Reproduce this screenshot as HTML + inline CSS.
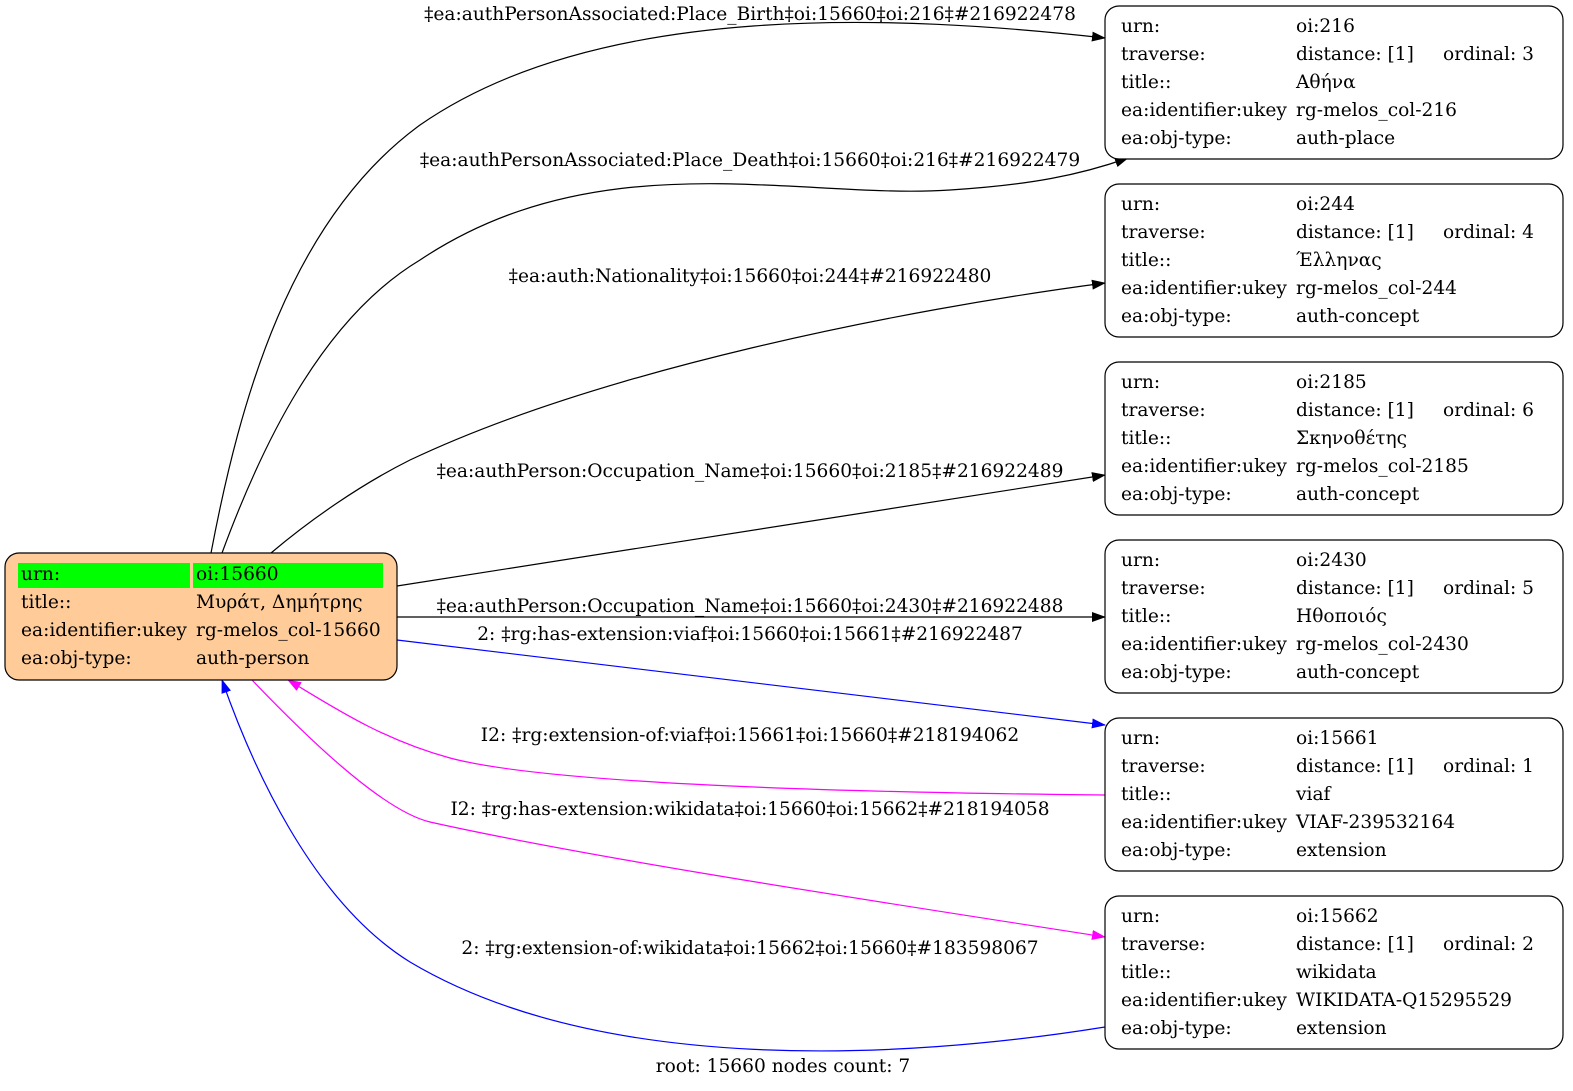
<!DOCTYPE html>
<html><head><meta charset="utf-8"><style>
html,body{margin:0;padding:0;background:#fff;}
svg{display:block;}
text{font-family:"DejaVu Serif","Liberation Serif",serif;font-size:18.6px;fill:#000;}
</style></head><body>
<svg width="1573" height="1091" viewBox="0 0 1573 1091" xmlns="http://www.w3.org/2000/svg">
<defs>
<marker id="ak" markerWidth="14" markerHeight="10" refX="13" refY="5" orient="auto" markerUnits="userSpaceOnUse"><path d="M0,0 L14,5 L0,10 z" fill="#000"/></marker>
<marker id="ab" markerWidth="14" markerHeight="10" refX="13" refY="5" orient="auto" markerUnits="userSpaceOnUse"><path d="M0,0 L14,5 L0,10 z" fill="#00f"/></marker>
<marker id="am" markerWidth="14" markerHeight="10" refX="13" refY="5" orient="auto" markerUnits="userSpaceOnUse"><path d="M0,0 L14,5 L0,10 z" fill="#f0f"/></marker>
</defs>
<g fill="none" stroke-width="1.2">
<path d="M211,553 C240,400 290,220 420,125 C600,0 900,15 1105,38" stroke="#000" marker-end="url(#ak)"/>
<path d="M222,553 C260,450 320,320 420,260 C600,140 800,200 950,190 C1030,185 1080,175 1128,158" stroke="#000" marker-end="url(#ak)"/>
<path d="M271,553 C310,520 360,485 410,460 C600,370 900,310 1105,283" stroke="#000" marker-end="url(#ak)"/>
<path d="M397,586 L1105,475" stroke="#000" marker-end="url(#ak)"/>
<path d="M397,617 L1105,617" stroke="#000" marker-end="url(#ak)"/>
<path d="M397,640 L1105,725" stroke="#00f" marker-end="url(#ab)"/>
<path d="M1105,795 C800,792 540,782 450,758 C380,739 330,705 288,680" stroke="#f0f" marker-end="url(#am)"/>
<path d="M252,680 C300,730 380,810 430,822 C600,860 900,905 1105,937" stroke="#f0f" marker-end="url(#am)"/>
<path d="M1105,1027 C900,1060 600,1075 410,962 C310,900 250,760 222,680" stroke="#00f" marker-end="url(#ab)"/>
</g>
<g text-anchor="middle">
<text x="750" y="20">‡ea:authPersonAssociated:Place_Birth‡oi:15660‡oi:216‡#216922478</text>
<text x="750" y="166">‡ea:authPersonAssociated:Place_Death‡oi:15660‡oi:216‡#216922479</text>
<text x="750" y="282">‡ea:auth:Nationality‡oi:15660‡oi:244‡#216922480</text>
<text x="750" y="477">‡ea:authPerson:Occupation_Name‡oi:15660‡oi:2185‡#216922489</text>
<text x="750" y="612">‡ea:authPerson:Occupation_Name‡oi:15660‡oi:2430‡#216922488</text>
<text x="750" y="640">2: ‡rg:has-extension:viaf‡oi:15660‡oi:15661‡#216922487</text>
<text x="750" y="741">I2: ‡rg:extension-of:viaf‡oi:15661‡oi:15660‡#218194062</text>
<text x="750" y="815">I2: ‡rg:has-extension:wikidata‡oi:15660‡oi:15662‡#218194058</text>
<text x="750" y="954">2: ‡rg:extension-of:wikidata‡oi:15662‡oi:15660‡#183598067</text>
<text x="783" y="1072">root: 15660 nodes count: 7</text>
</g>
<rect x="5" y="553" width="392" height="127" rx="14" fill="#ffcc99" stroke="#000" stroke-width="1.2"/>
<rect x="18" y="563" width="172" height="25" fill="#00ff00"/>
<rect x="193" y="563" width="190" height="25" fill="#00ff00"/>
<text x="21" y="580">urn:</text><text x="196" y="580">oi:15660</text>
<text x="21" y="608">title::</text><text x="196" y="608">Μυράτ, Δημήτρης</text>
<text x="21" y="636">ea:identifier:ukey</text><text x="196" y="636">rg-melos_col-15660</text>
<text x="21" y="664">ea:obj-type:</text><text x="196" y="664">auth-person</text>
<g id="nodes">
<rect x="1105" y="6" width="458" height="153" rx="14" fill="#fff" stroke="#000" stroke-width="1.2"/>
<text x="1121" y="32">urn:</text><text x="1296" y="32">oi:216</text>
<text x="1121" y="60">traverse:</text><text x="1296" y="60">distance: [1]</text><text x="1443" y="60">ordinal: 3</text>
<text x="1121" y="88">title::</text><text x="1296" y="88">Αθήνα</text>
<text x="1121" y="116">ea:identifier:ukey</text><text x="1296" y="116">rg-melos_col-216</text>
<text x="1121" y="144">ea:obj-type:</text><text x="1296" y="144">auth-place</text>

<rect x="1105" y="184" width="458" height="153" rx="14" fill="#fff" stroke="#000" stroke-width="1.2"/>
<text x="1121" y="210">urn:</text><text x="1296" y="210">oi:244</text>
<text x="1121" y="238">traverse:</text><text x="1296" y="238">distance: [1]</text><text x="1443" y="238">ordinal: 4</text>
<text x="1121" y="266">title::</text><text x="1296" y="266">Έλληνας</text>
<text x="1121" y="294">ea:identifier:ukey</text><text x="1296" y="294">rg-melos_col-244</text>
<text x="1121" y="322">ea:obj-type:</text><text x="1296" y="322">auth-concept</text>

<rect x="1105" y="362" width="458" height="153" rx="14" fill="#fff" stroke="#000" stroke-width="1.2"/>
<text x="1121" y="388">urn:</text><text x="1296" y="388">oi:2185</text>
<text x="1121" y="416">traverse:</text><text x="1296" y="416">distance: [1]</text><text x="1443" y="416">ordinal: 6</text>
<text x="1121" y="444">title::</text><text x="1296" y="444">Σκηνοθέτης</text>
<text x="1121" y="472">ea:identifier:ukey</text><text x="1296" y="472">rg-melos_col-2185</text>
<text x="1121" y="500">ea:obj-type:</text><text x="1296" y="500">auth-concept</text>

<rect x="1105" y="540" width="458" height="153" rx="14" fill="#fff" stroke="#000" stroke-width="1.2"/>
<text x="1121" y="566">urn:</text><text x="1296" y="566">oi:2430</text>
<text x="1121" y="594">traverse:</text><text x="1296" y="594">distance: [1]</text><text x="1443" y="594">ordinal: 5</text>
<text x="1121" y="622">title::</text><text x="1296" y="622">Ηθοποιός</text>
<text x="1121" y="650">ea:identifier:ukey</text><text x="1296" y="650">rg-melos_col-2430</text>
<text x="1121" y="678">ea:obj-type:</text><text x="1296" y="678">auth-concept</text>

<rect x="1105" y="718" width="458" height="153" rx="14" fill="#fff" stroke="#000" stroke-width="1.2"/>
<text x="1121" y="744">urn:</text><text x="1296" y="744">oi:15661</text>
<text x="1121" y="772">traverse:</text><text x="1296" y="772">distance: [1]</text><text x="1443" y="772">ordinal: 1</text>
<text x="1121" y="800">title::</text><text x="1296" y="800">viaf</text>
<text x="1121" y="828">ea:identifier:ukey</text><text x="1296" y="828">VIAF-239532164</text>
<text x="1121" y="856">ea:obj-type:</text><text x="1296" y="856">extension</text>

<rect x="1105" y="896" width="458" height="153" rx="14" fill="#fff" stroke="#000" stroke-width="1.2"/>
<text x="1121" y="922">urn:</text><text x="1296" y="922">oi:15662</text>
<text x="1121" y="950">traverse:</text><text x="1296" y="950">distance: [1]</text><text x="1443" y="950">ordinal: 2</text>
<text x="1121" y="978">title::</text><text x="1296" y="978">wikidata</text>
<text x="1121" y="1006">ea:identifier:ukey</text><text x="1296" y="1006">WIKIDATA-Q15295529</text>
<text x="1121" y="1034">ea:obj-type:</text><text x="1296" y="1034">extension</text>
</g>
</svg>
</body></html>
